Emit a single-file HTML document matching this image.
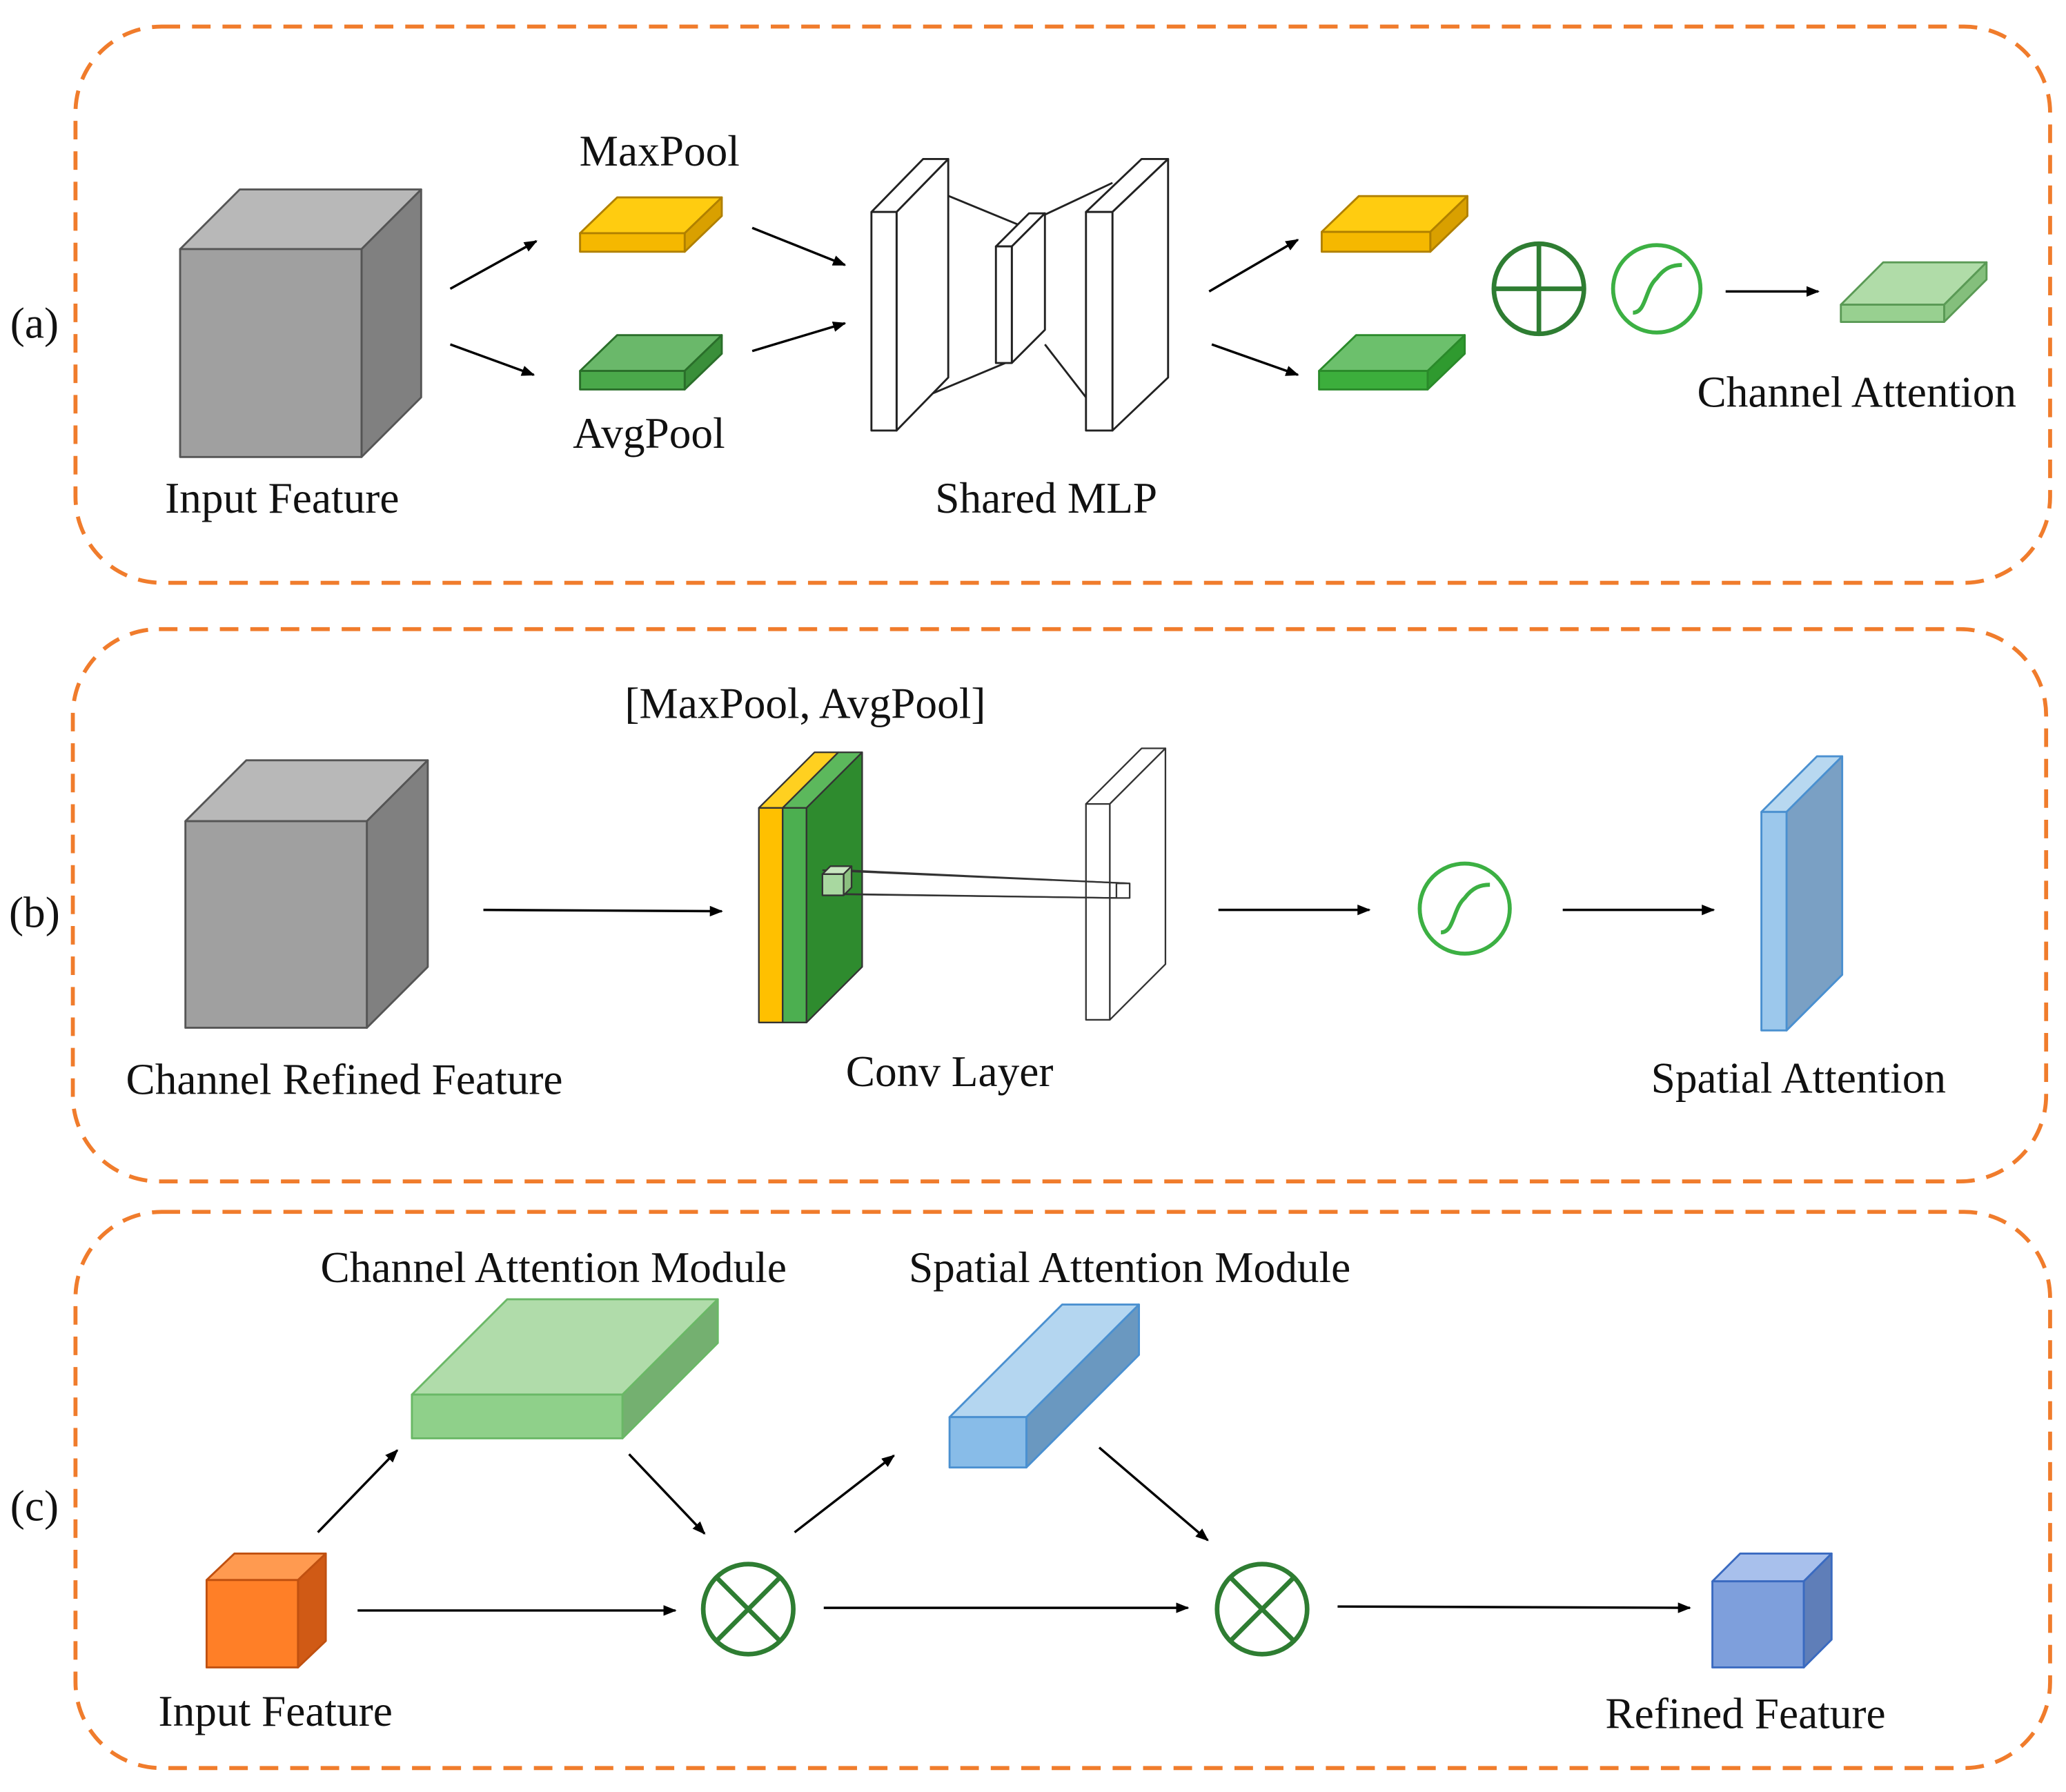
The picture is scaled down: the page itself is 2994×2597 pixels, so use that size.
<!DOCTYPE html>
<html><head><meta charset="utf-8"><style>html,body{margin:0;padding:0;background:#fff}svg{display:block}text{font-family:"Liberation Serif",serif;font-size:33px;fill:#111;text-anchor:middle}</style></head><body>
<svg width="2994" height="2597" viewBox="0 0 1560 1353" xmlns="http://www.w3.org/2000/svg">
<defs><marker id="ah" markerWidth="10" markerHeight="8" refX="9" refY="4" orient="auto" markerUnits="userSpaceOnUse"><path d="M0,0 L10,4 L0,8 Z" fill="#000"/></marker></defs>
<g fill="none" stroke="#f07c2c" stroke-width="3" stroke-dasharray="14 9">
<rect x="57" y="20" width="1491" height="420" rx="65"/>
<rect x="55" y="475" width="1490" height="417" rx="65"/>
<rect x="57" y="915" width="1491" height="420" rx="65"/>
</g>
<text x="26" y="255">(a)</text><text x="26" y="700">(b)</text><text x="26" y="1148">(c)</text>
<g stroke-linejoin="round">
<!-- a input cube -->
<g stroke="#555" stroke-width="1.5"><polygon points="136,188 181,143 318,143 273,188" fill="#b8b8b8"/><polygon points="273,188 318,143 318,300 273,345" fill="#808080"/><rect x="136" y="188" width="137" height="157" fill="#a0a0a0"/></g>
<!-- maxpool -->
<g stroke="#b08000" stroke-width="1.5"><polygon points="438,176 466,149 545,149 517,176" fill="#ffcc10"/><polygon points="517,176 545,149 545,163 517,190" fill="#d9a000"/><rect x="438" y="176" width="79" height="14" fill="#f5b800"/></g>
<g stroke="#2a6e2a" stroke-width="1.5"><polygon points="438,280 466,253 545,253 517,280" fill="#6ab86a"/><polygon points="517,280 545,253 545,267 517,294" fill="#3a8f3a"/><rect x="438" y="280" width="79" height="14" fill="#4aa84a"/></g>
<!-- shared MLP -->
<g stroke="#222" stroke-width="1.5" fill="#fff">
<line x1="697" y1="140" x2="770" y2="170"/><line x1="697" y1="300" x2="764" y2="272"/><line x1="789" y1="162" x2="840" y2="138"/><line x1="789" y1="260" x2="820" y2="300"/>
<polygon points="658,160 697,120 716,120 677,160"/><polygon points="677,160 716,120 716,285 677,325"/><rect x="658" y="160" width="19" height="165"/>
<polygon points="752,186 777,161 789,161 764,186"/><polygon points="764,186 789,161 789,249 764,274"/><rect x="752" y="186" width="12" height="88"/>
<polygon points="820,160 862,120 882,120 840,160"/><polygon points="840,160 882,120 882,285 840,325"/><rect x="820" y="160" width="20" height="165"/>
</g>
<g stroke="#b08000" stroke-width="1.5"><polygon points="998,175 1026,148 1108,148 1080,175" fill="#ffcc10"/><polygon points="1080,175 1108,148 1108,163 1080,190" fill="#d9a000"/><rect x="998" y="175" width="82" height="15" fill="#f5b800"/></g>
<g stroke="#2a8a2a" stroke-width="1.5"><polygon points="996,280 1024,253 1106,253 1078,280" fill="#6cc06c"/><polygon points="1078,280 1106,253 1106,267 1078,294" fill="#2f9a2f"/><rect x="996" y="280" width="82" height="14" fill="#3cae3c"/></g>
<g stroke="#5a9a55" stroke-width="1.5"><polygon points="1390,230 1422,198 1500,198 1468,230" fill="#b0dca8"/><polygon points="1468,230 1500,198 1500,211 1468,243" fill="#84bf7c"/><rect x="1390" y="230" width="78" height="13" fill="#98d090"/></g>
</g>
<g fill="none" stroke="#2e7d32" stroke-width="3.5"><circle cx="1162" cy="218" r="34"/><line x1="1128" y1="218" x2="1196" y2="218"/><line x1="1162" y1="184" x2="1162" y2="252"/></g>
<g fill="none" stroke="#3cb043" stroke-width="3"><circle cx="1251" cy="218" r="33"/><path d="M1233,236 C1243,236 1242,218 1251,210 C1257,202 1263,200 1270,200"/><circle cx="1106" cy="686" r="34"/><path d="M1088,704 C1098,704 1097,686 1106,678 C1112,670 1118,668 1125,668"/></g>
<g stroke="#000" stroke-width="1.8" marker-end="url(#ah)">
<line x1="340" y1="218" x2="405" y2="182"/><line x1="340" y1="260" x2="403" y2="283"/><line x1="568" y1="172" x2="638" y2="200"/><line x1="568" y1="265" x2="638" y2="244"/>
<line x1="913" y1="220" x2="980" y2="181"/><line x1="915" y1="260" x2="980" y2="283"/><line x1="1303" y1="220" x2="1373" y2="220"/>
<line x1="365" y1="687" x2="545" y2="688"/><line x1="920" y1="687" x2="1034" y2="687"/><line x1="1180" y1="687" x2="1294" y2="687"/>
<line x1="240" y1="1157" x2="300" y2="1095"/><line x1="475" y1="1098" x2="532" y2="1158"/><line x1="600" y1="1157" x2="675" y2="1099"/><line x1="830" y1="1093" x2="912" y2="1163"/>
<line x1="270" y1="1216" x2="510" y2="1216"/><line x1="622" y1="1214" x2="897" y2="1214"/><line x1="1010" y1="1213" x2="1276" y2="1214"/>
</g>
<text x="498" y="125">MaxPool</text><text x="490" y="338">AvgPool</text><text x="213" y="387">Input Feature</text><text x="790" y="387">Shared MLP</text><text x="1402" y="307">Channel  Attention</text>
<!-- b -->
<g stroke-linejoin="round">
<g stroke="#555" stroke-width="1.5"><polygon points="140,620 186,574 323,574 277,620" fill="#b8b8b8"/><polygon points="277,620 323,574 323,730 277,776" fill="#808080"/><rect x="140" y="620" width="137" height="156" fill="#a0a0a0"/></g>
<g stroke="#333" stroke-width="1.2">
<polygon points="573,610 615,568 633,568 591,610" fill="#ffd020"/><rect x="573" y="610" width="18" height="162" fill="#ffc000"/>
<polygon points="591,610 633,568 651,568 609,610" fill="#5cb85c"/><rect x="591" y="610" width="18" height="162" fill="#4caf50"/>
<polygon points="609,610 651,568 651,730 609,772" fill="#2e8b2e"/>
<polygon points="820,607 862,565 880,565 838,607" fill="#fff"/><polygon points="838,607 880,565 880,728 838,770" fill="#fff"/><rect x="820" y="607" width="18" height="163" fill="#fff"/>
<line x1="621" y1="657" x2="853" y2="667"/><line x1="637" y1="675" x2="843" y2="678"/><line x1="637" y1="657" x2="853" y2="667"/><line x1="621" y1="675" x2="843" y2="678"/>
<rect x="843" y="667" width="10" height="11" fill="#fff"/>
<polygon points="621,660 627,654 643,654 637,660" fill="#c8e6c0"/><polygon points="637,660 643,654 643,670 637,676" fill="#8cc080"/><rect x="621" y="660" width="16" height="16" fill="#a8d8a0"/>
</g>
<g stroke="#4a90d0" stroke-width="1.5"><polygon points="1330,613 1372,571 1391,571 1349,613" fill="#b8d8f0"/><polygon points="1349,613 1391,571 1391,736 1349,778" fill="#7aa0c4"/><rect x="1330" y="613" width="19" height="165" fill="#9cc8ec"/></g>
</g>
<text x="608" y="542">[MaxPool, AvgPool]</text><text x="717" y="820">Conv Layer</text><text x="260" y="826">Channel  Refined Feature</text><text x="1358" y="825">Spatial Attention</text>
<!-- c -->
<g stroke-linejoin="round" stroke-width="1.5">
<g stroke="#c05010"><polygon points="156,1193 177,1173 246,1173 225,1193" fill="#ff9a50"/><polygon points="225,1193 246,1173 246,1239 225,1259" fill="#d05a15"/><rect x="156" y="1193" width="69" height="66" fill="#ff7f27"/></g>
<g stroke="#6ab866"><polygon points="311,1053 383,981 542,981 470,1053" fill="#b0dcaa"/><polygon points="470,1053 542,981 542,1014 470,1086" fill="#74b070"/><rect x="311" y="1053" width="159" height="33" fill="#8fd08a"/></g>
<g stroke="#4a90d0"><polygon points="717,1070 802,985 860,985 775,1070" fill="#b4d6f0"/><polygon points="775,1070 860,985 860,1023 775,1108" fill="#6a98c0"/><rect x="717" y="1070" width="58" height="38" fill="#88bce8"/></g>
<g stroke="#3a6ac0"><polygon points="1293,1194 1314,1173 1383,1173 1362,1194" fill="#a8c0ec"/><polygon points="1362,1194 1383,1173 1383,1238 1362,1259" fill="#5f7eb8"/><rect x="1293" y="1194" width="69" height="65" fill="#7e9fdc"/></g>
</g>
<g fill="none" stroke="#2e7d32" stroke-width="3.5"><circle cx="565" cy="1215" r="34"/><line x1="541" y1="1191" x2="589" y2="1239"/><line x1="589" y1="1191" x2="541" y2="1239"/><circle cx="953" cy="1215" r="34"/><line x1="929" y1="1191" x2="977" y2="1239"/><line x1="977" y1="1191" x2="929" y2="1239"/></g>
<text x="418" y="968">Channel Attention  Module</text><text x="853" y="968">Spatial Attention  Module</text><text x="208" y="1303">Input Feature</text><text x="1318" y="1305">Refined Feature</text>
</svg>
</body></html>
